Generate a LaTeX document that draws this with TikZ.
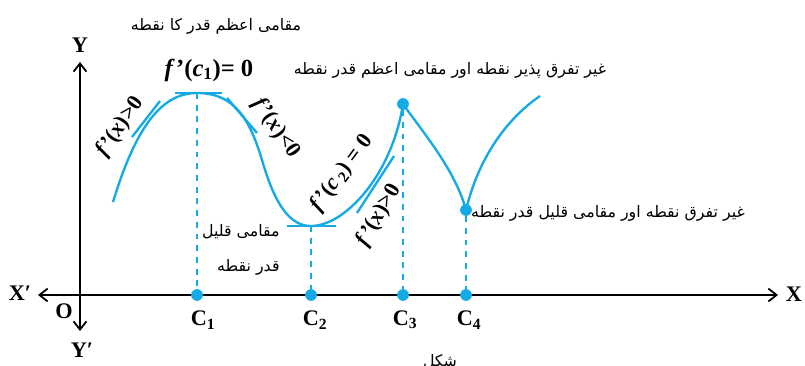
\documentclass[tikz,border=0pt]{standalone}
\usepackage{fontspec}
\setmainfont{Liberation Serif}
\newfontfamily\urdufont[Script=Arabic]{DejaVu Sans}
\TeXXeTstate=1
\usetikzlibrary{arrows.meta}
\definecolor{curvecyan}{RGB}{20,170,230}
\newcommand{\fd}{\textit{f}\kern1pt’}

\tikzset{
  axis/.style={line width=1.5pt, arrows={Straight Barb[length=7pt,width=11pt,line width=1.5pt]-Straight Barb[length=7pt,width=11pt,line width=1.5pt]}},
  curve/.style={curvecyan, line width=2pt},
  guide/.style={curvecyan, line width=2.5pt, dash pattern=on 5pt off 5pt},
  dot/.style={circle, fill=curvecyan, inner sep=0pt, minimum size=10pt},
  lbl/.style={font=\fontsize{19}{21}\selectfont\bfseries, inner sep=1pt},
  urdu/.style={font=\fontsize{13.5}{17}\selectfont\urdufont, inner sep=1pt},
}

\begin{document}
\begin{tikzpicture}[x=0.03cm, y=-0.03cm]
  \useasboundingbox (0,0) rectangle (805,366);

  % axes
  \coordinate (xneg) at (38,295);
  \coordinate (xpos) at (778,295);
  \coordinate (ypos) at (80,62);
  \coordinate (yneg) at (80,331);
  \draw[axis] (xneg) -- (xpos);
  \draw[axis] (yneg) -- (ypos);
  \node[lbl] (xl) at (20,293) {X′};
  \node[lbl] (xr) at (794,294) {X};
  \node[lbl] (yt) at (80,45) {Y};
  \node[lbl] (yb) at (82,350) {Y′};
  \node[lbl] (o) at (64,311) {O};

  % points of the curve
  \coordinate (start) at (113,202);
  \coordinate (peak) at (197,93);
  \coordinate (bend) at (262,160);
  \coordinate (vall) at (311,226);
  \coordinate (cusp) at (403,104);
  \coordinate (vee) at (466,210);
  \coordinate (stop) at (540,96);

  \draw[curve] (start) .. controls (135,130) and (160,93) .. (peak)
    .. controls (235,93) and (250,120) .. (bend)
    .. controls (275,205) and (290,226) .. (vall)
    .. controls (345,226) and (392,175) .. (cusp)
    .. controls (425,135) and (455,170) .. (vee)
    .. controls (478,160) and (505,120) .. (stop);

  % tangents
  \draw[curve] (132,137) -- (160,101);
  \draw[curve] (175,93) -- (222,93);
  \draw[curve] (227,98) -- (257,133);
  \draw[curve] (287,226) -- (336,226);
  \draw[curve] (357,213) -- (394,156);

  % dots on the x axis
  \node[dot] (d1) at (197,295) {};
  \node[dot] (d2) at (311,295) {};
  \node[dot] (d3) at (403,295) {};
  \node[dot] (d4) at (466,295) {};
  \node[dot] (dc) at (cusp) {};
  \node[dot] (dv) at (vee) {};

  \draw[guide] (peak) -- (d1);
  \draw[guide] (vall) -- (d2);
  \draw[guide] (dc) -- (d3);
  \draw[guide] (dv) -- (d4);

  \node[lbl] (c1) at (203,320) {C\textsubscript{1}};
  \node[lbl] (c2) at (315,320) {C\textsubscript{2}};
  \node[lbl] (c3) at (405,320) {C\textsubscript{3}};
  \node[lbl] (c4) at (469,320) {C\textsubscript{4}};

  % slopes
  \node[lbl, font=\fontsize{21}{23}\selectfont\bfseries] (slp0) at (209,70) {\fd(\textit{c}\textsubscript{1})= 0};
  \node[lbl, rotate=55] (slp1) at (120,127) {\fd(\textit{x})>0};
  \node[lbl, rotate=-56] (slp2) at (276,128) {\fd(\textit{x})<0};
  \node[lbl, rotate=53] (slp3) at (342,173) {\fd(\textit{c}\,\textsubscript{2}) = 0};
  \node[lbl, rotate=60] (slp4) at (379,215) {\fd(\textit{x})>0};

  % urdu labels
  \node[urdu] (maxlab) at (216,26) {\urdufont\beginR مقامی اعظم قدر کا نقطه\endR};
  \node[urdu] (cusplab) at (450,70) {\urdufont\beginR غیر تفرق پذیر نقطه اور مقامی اعظم قدر نقطه\endR};
  \node[urdu] (veelab) at (608,213) {\urdufont\beginR غیر تفرق نقطه اور مقامی قلیل قدر نقطه\endR};
  \node[urdu, anchor=east] (minlab1) at (281,232) {\urdufont\beginR مقامی قلیل\endR};
  \node[urdu, anchor=east] (minlab2) at (281,267) {\urdufont\beginR قدر نقطه\endR};
  \node[urdu] (fig) at (440,362) {\urdufont\beginR شکل\endR};
\end{tikzpicture}
\end{document}
